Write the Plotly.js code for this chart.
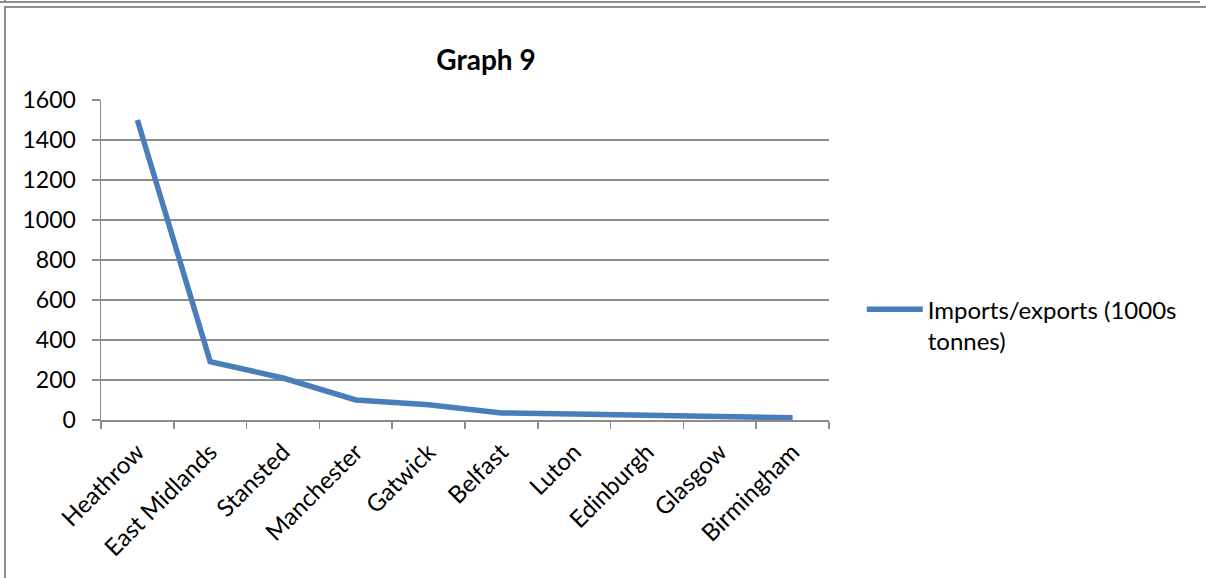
<!DOCTYPE html>
<html>
<head>
<meta charset="utf-8">
<script src="https://cdn.plot.ly/plotly-3.0.1.min.js"></script>
<style>
  html, body { margin:0; padding:0; background:#fff; }
  #wrap { position:relative; width:1206px; height:578px; overflow:hidden; }
  #chart { position:absolute; left:0; top:0; width:1206px; height:578px; }
  .frame { position:absolute; pointer-events:none; border-color:#8f8f8f; border-style:solid; }
</style>
</head>
<body>
<div id="wrap">
  <div id="chart"></div>
  <div class="frame" style="left:-10px; top:-10px; width:1210px; height:11px; border-width:0 0 2px 0;"></div>
  <div class="frame" style="left:4px; top:-10px; width:0; height:13px; border-width:0 0 0 2px;"></div>
  <div class="frame" style="left:4px; top:6px; width:1220px; height:600px; border-width:2px 0 0 2px;"></div>
</div>
<script>
var airports = ["Heathrow", "East Midlands", "Stansted", "Manchester", "Gatwick",
                "Belfast", "Luton", "Edinburgh", "Glasgow", "Birmingham"];
var tonnes = [1500, 292, 210, 100, 76, 35, 30, 23, 16, 11];
var seriesName = "Imports/exports (1000s<br>tonnes)";
var yTicks = [0, 200, 400, 600, 800, 1000, 1200, 1400, 1600];
var chartTitle = "Graph 9";

var FONT = "Lato, 'Open Sans', sans-serif";

var trace = {
  x: airports,
  y: tonnes,
  type: "scatter",
  mode: "lines",
  name: seriesName,
  line: { color: "#4a7ebb", width: 5.5 },
  hoverinfo: "x+y"
};

var layout = {
  width: 1206,
  height: 578,
  margin: { l: 101, r: 377, t: 100, b: 158 },
  paper_bgcolor: "rgba(0,0,0,0)",
  plot_bgcolor: "rgba(0,0,0,0)",
  title: {
    text: "<b>" + chartTitle + "</b>",
    font: { family: FONT, size: 28, color: "#000" },
    x: 486 / 1206,
    xanchor: "center",
    y: 1 - 60 / 578,
    yanchor: "middle"
  },
  showlegend: true,
  legend: {
    x: 1.045,
    xanchor: "left",
    y: 0.415,
    yanchor: "top",
    valign: "top",
    font: { family: FONT, size: 24, color: "#000" },
    itemwidth: 56,
    tracegroupgap: 0
  },
  xaxis: {
    type: "category",
    range: [-0.5, 9.5],
    tickangle: -45,
    tickson: "boundaries",
    ticks: "outside",
    ticklen: 7,
    tickcolor: "#8c8c8c",
    tickwidth: 1.5,
    showline: true,
    linecolor: "#8c8c8c",
    linewidth: 1.5,
    showgrid: false,
    zeroline: false,
    ticklabelstandoff: 7,
    tickfont: { family: FONT, size: 24, color: "#000" },
    fixedrange: true
  },
  yaxis: {
    range: [0, 1600],
    tickvals: yTicks,
    ticktext: yTicks.map(String),
    ticks: "outside",
    ticklen: 8,
    tickcolor: "#8c8c8c",
    tickwidth: 1.5,
    showline: true,
    linecolor: "#8c8c8c",
    linewidth: 1.5,
    showgrid: true,
    gridcolor: "#8c8c8c",
    gridwidth: 1.2,
    zeroline: false,
    ticklabelstandoff: 11,
    tickfont: { family: FONT, size: 23, color: "#000" },
    fixedrange: true
  }
};

Plotly.newPlot("chart", [trace], layout, { displayModeBar: false, staticPlot: true });
</script>
</body>
</html>
